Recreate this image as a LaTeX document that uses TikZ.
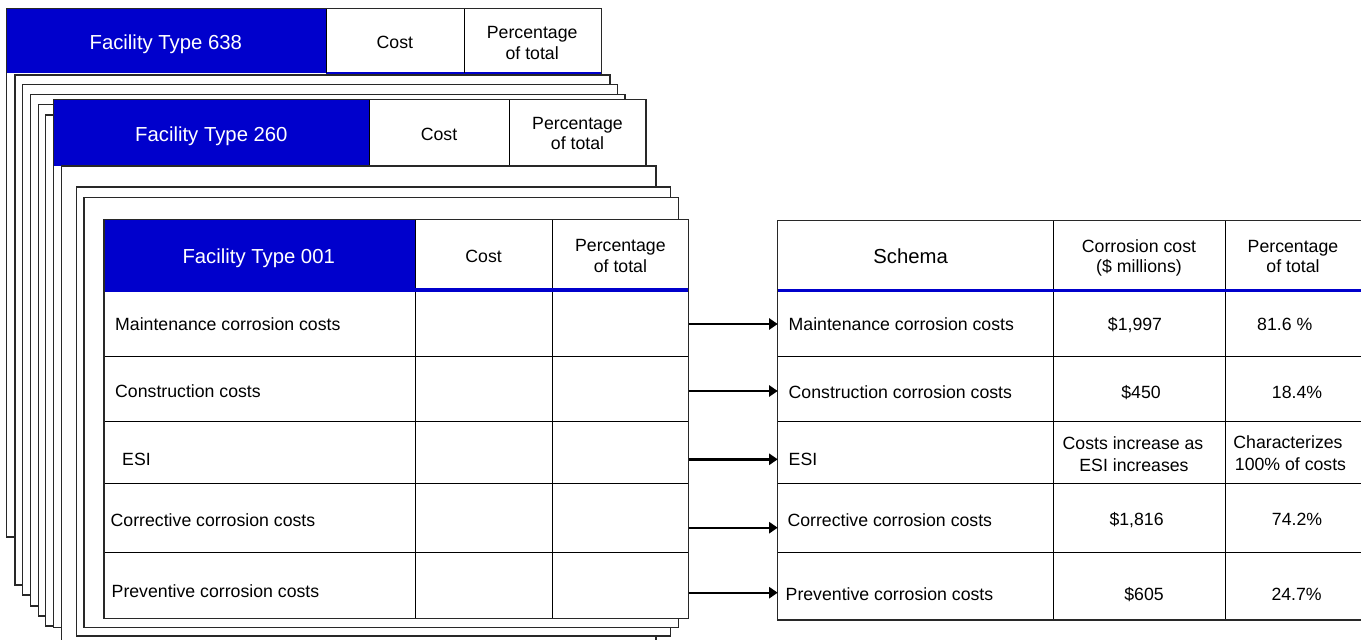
\documentclass[tikz,border=0pt]{standalone}
\usepackage{fontspec}
\setmainfont{Liberation Sans}
\usetikzlibrary{arrows.meta}
\definecolor{facblue}{RGB}{0,0,204}
\definecolor{edgegray}{RGB}{40,40,40}
\begin{document}
\begin{tikzpicture}[x=1pt,y=-1pt,
  card/.style={draw=edgegray, line width=1.1pt, fill=white},
  outline/.style={draw=edgegray, line width=1.1pt},
  grid/.style={draw=black, line width=0.9pt},
  frame/.style={draw=edgegray, line width=1.5pt},
  thinblue/.style={draw=facblue, line width=1.2pt},
  thickblue/.style={draw=facblue, line width=3.2pt},
  ttl/.style={font=\fontsize{20.3}{24}\selectfont, text=white, anchor=base, inner sep=0pt},
  txt/.style={font=\fontsize{17.7}{21}\selectfont, anchor=base, inner sep=0pt},
  lbl/.style={txt, anchor=base west},
  link/.style={draw=black, line width=2.4pt, -{Triangle[length=8.5pt,width=11pt]}}
]
\useasboundingbox (0,0) rectangle (1361,640);
\fill[white] (0,0) rectangle (1361,640);

% ---------- stack of Facility Type 638 ----------
\fill[white] (6.7,8.3) rectangle (601.7,537);
\fill[facblue] (6.7,8.3) rectangle (326,73.3);
\draw[thinblue] (326,73) -- (601.7,73);
\draw[grid] (326,8.3) -- (326,73.3) (464,8.3) -- (464,73.3);
\draw[outline] (6.7,8.3) rectangle (601.7,537);
\node[ttl] (t638) at (165.8,49) {Facility Type 638};
\node[txt] (c638) at (394.9,48.3) {Cost};
\node[txt] (p638a) at (532.2,38.7) {Percentage};
\node[txt] (p638b) at (532.2,59.6) {of total};

\filldraw[card] (15,75) rectangle (610,585);
\filldraw[card] (22.7,84.5) rectangle (617.3,595);
\filldraw[card] (30.7,94.5) rectangle (625,606);
\filldraw[card] (38.3,104.5) rectangle (632.5,616);
\filldraw[card] (45.7,115) rectangle (640,626);

% ---------- stack of Facility Type 260 ----------
\fill[white] (53.3,99.3) rectangle (646,627.7);
\fill[facblue] (53.3,99.3) rectangle (369,166);
\draw[thinblue] (369,165.5) -- (646,165.5);
\draw[grid] (369,99.3) -- (369,166) (509,99.3) -- (509,166);
\draw[outline] (53.3,99.3) rectangle (646,627.7);
\node[ttl] (t260) at (211.4,141) {Facility Type 260};
\node[txt] (c260) at (439,140) {Cost};
\node[txt] (p260a) at (577.5,129.4) {Percentage};
\node[txt] (p260b) at (577.5,149.6) {of total};

\filldraw[card] (61.5,166) rectangle (656,650);
\filldraw[card] (76.3,187) rectangle (670.7,636);
\filldraw[card] (84,197.5) rectangle (678.3,627.5);

% ---------- Facility Type 001 table ----------
\fill[white] (104,219.5) rectangle (688.7,618.5);
\fill[facblue] (104,219.5) rectangle (415.4,291.5);
\draw[grid] (415.4,219.5) -- (415.4,618.5) (552,219.5) -- (552,618.5);
\draw[grid] (104,356) -- (688.7,356) (104,421) -- (688.7,421)
            (104,483) -- (688.7,483) (104,552) -- (688.7,552);
\draw[thickblue] (415.4,290) -- (688.7,290);
\draw[frame] (104,219.5) rectangle (688.7,618.5);
\node[ttl] (t001) at (258.7,263.3) {Facility Type 001};
\node[txt] (c001) at (483.6,262.3) {Cost};
\node[txt] (p001a) at (620.4,251) {Percentage};
\node[txt] (p001b) at (620.4,272.7) {of total};

\node[lbl] (l1) at (115,330) {Maintenance corrosion costs};
\node[lbl] (l2) at (115,397) {Construction costs};
\node[lbl] (l3) at (122,465) {ESI};
\node[lbl] (l4) at (110.5,526.5) {Corrective corrosion costs};
\node[lbl] (l5) at (111.5,597.3) {Preventive corrosion costs};

% ---------- schema summary table ----------
\fill[white] (777.7,220.5) rectangle (1364,620);
\draw[grid] (1053.4,220.5) -- (1053.4,620) (1225.4,220.5) -- (1225.4,620);
\draw[grid] (777.7,356) -- (1364,356) (777.7,421) -- (1364,421)
            (777.7,483) -- (1364,483) (777.7,552) -- (1364,552);
\draw[thickblue] (777.7,290.5) -- (1364,290.5);
\draw[frame] (777.7,220.5) rectangle (1364,620);

\node[txt, font=\fontsize{20.3}{24}\selectfont] (sch) at (910.6,263.3) {Schema};
\node[txt] (cc1) at (1139,252.7) {Corrosion cost};
\node[txt] (cc2) at (1139,272.7) {(\$ millions)};
\node[txt] (pt1) at (1293,252.7) {Percentage};
\node[txt] (pt2) at (1293,272.7) {of total};

\node[lbl] (r1) at (788.5,330) {Maintenance corrosion costs};
\node[lbl] (r2) at (788.5,398.5) {Construction corrosion costs};
\node[lbl] (r3) at (788.5,465) {ESI};
\node[lbl] (r4) at (787.3,526) {Corrective corrosion costs};
\node[lbl] (r5) at (785.5,600) {Preventive corrosion costs};

\node[txt] (v1) at (1135,330) {\$1,997};
\node[txt] (v2) at (1141,398.5) {\$450};
\node[txt] (v3a) at (1133,449.3) {Costs increase as};
\node[txt] (v3b) at (1134,471.7) {ESI increases};
\node[txt] (v4) at (1136.6,525.5) {\$1,816};
\node[txt] (v5) at (1144,600) {\$605};

\node[txt] (q1) at (1284.7,330) {81.6 \%};
\node[txt] (q2) at (1297,398.5) {18.4\%};
\node[txt] (q3a) at (1288,448.3) {Characterizes};
\node[txt] (q3b) at (1290.5,470.7) {100\% of costs};
\node[txt] (q4) at (1297,525) {74.2\%};
\node[txt] (q5) at (1296.6,600) {24.7\%};

% ---------- links between the two tables ----------
\coordinate (a1) at (688.7,324);   \coordinate (b1) at (777.7,324);
\coordinate (a2) at (688.7,391);   \coordinate (b2) at (777.7,391);
\coordinate (a3) at (688.7,459.3); \coordinate (b3) at (777.7,459.3);
\coordinate (a4) at (688.7,527.7); \coordinate (b4) at (777.7,527.7);
\coordinate (a5) at (688.7,592.7); \coordinate (b5) at (777.7,592.7);
\draw[link] (a1) -- (b1);
\draw[link] (a2) -- (b2);
\draw[link] (a3) -- (b3);
\draw[link] (a4) -- (b4);
\draw[link] (a5) -- (b5);
\end{tikzpicture}
\end{document}
